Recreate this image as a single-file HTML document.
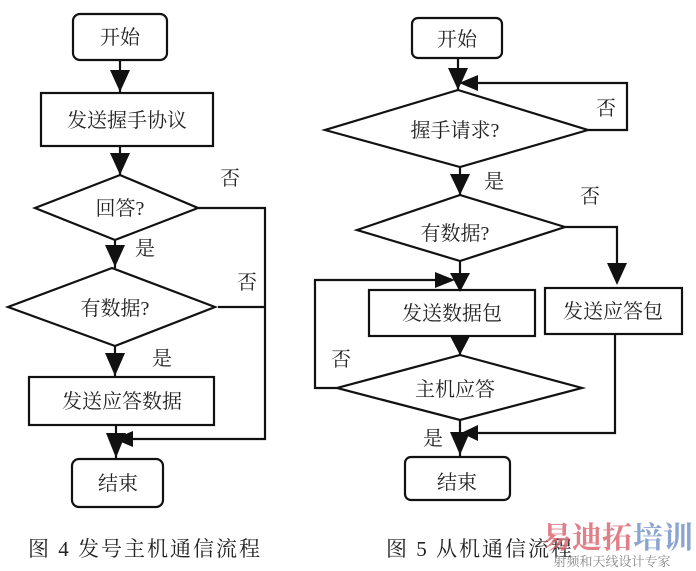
<!DOCTYPE html>
<html><head><meta charset="utf-8"><style>
html,body{margin:0;padding:0;background:#fff;}
svg{display:block;}
text{font-family:"Liberation Serif","Noto Serif CJK SC","Noto Sans CJK SC",serif;fill:#222;}
</style></head><body>
<svg width="696" height="571" viewBox="0 0 696 571" xmlns="http://www.w3.org/2000/svg">
<g fill="none" stroke="#111" stroke-width="2.2">
<rect x="73" y="14" width="94" height="46" rx="7"/>
<line x1="120" y1="60" x2="120" y2="93"/>
<rect x="41" y="93" width="172" height="53"/>
<line x1="120" y1="146" x2="120" y2="175"/>
<polygon points="120,175 198,208 115,240 35,208"/>
<polyline points="198,208 265,208 265,439 120,439"/>
<line x1="115" y1="240" x2="115" y2="268"/>
<polygon points="112,268 215,307 115,346 8,307"/>
<line x1="218" y1="307" x2="265" y2="307"/>
<line x1="115" y1="346" x2="115" y2="377"/>
<rect x="29" y="377" width="185" height="48"/>
<line x1="116" y1="425" x2="116" y2="459"/>
<rect x="72" y="459" width="91" height="48" rx="7"/>
<rect x="412" y="18" width="90" height="40" rx="6"/>
<line x1="458" y1="58" x2="458" y2="90"/>
<polyline points="588,130 627,130 627,83 470,83"/>
<polygon points="458,90 588,130 460,167 325,130"/>
<line x1="460" y1="167" x2="460" y2="195"/>
<polygon points="460,195 565,227 460,261 357,230"/>
<polyline points="565,227 617,227 617,280"/>
<line x1="460" y1="261" x2="460" y2="290"/>
<rect x="369" y="290" width="166" height="46"/>
<rect x="545" y="288" width="137" height="46"/>
<polyline points="337,388 315,388 315,280 440,280"/>
<line x1="460" y1="336" x2="460" y2="355"/>
<polygon points="460,355 582,388 460,420 337,388"/>
<line x1="460" y1="420" x2="460" y2="457"/>
<polyline points="615,334 615,433 475,433"/>
<rect x="405" y="457" width="105" height="43" rx="6"/>
</g>
<g fill="#111">
<polygon points="110,70 130,70 120,92"/>
<polygon points="110,153 130,153 120,175"/>
<polygon points="105,245 125,245 115,267"/>
<polygon points="105,353 125,353 115,376"/>
<polygon points="106,433 126,433 116,458"/>
<polygon points="133,431 133,447 114,439"/>
<polygon points="448,68 468,68 458,90"/>
<polygon points="478,75 478,91 459,83"/>
<polygon points="450,174 470,174 460,195"/>
<polygon points="607,263 627,263 617,285"/>
<polygon points="450,273 470,273 460,292"/>
<polygon points="435,272 435,288 455,280"/>
<polygon points="450,336 470,336 460,355"/>
<polygon points="450,432 470,432 460,455"/>
<polygon points="478,425 478,441 461,433"/>
</g>
<g font-size="20" text-anchor="middle">
<text x="120" y="44">开始</text>
<text x="127" y="127">发送握手协议</text>
<text x="120" y="215">回答?</text>
<text x="115" y="315">有数据?</text>
<text x="122" y="408">发送应答数据</text>
<text x="118" y="490">结束</text>
<text x="230" y="185">否</text>
<text x="145" y="255">是</text>
<text x="247" y="289">否</text>
<text x="162" y="365">是</text>
<text x="457" y="46">开始</text>
<text x="455" y="137">握手请求?</text>
<text x="455" y="240">有数据?</text>
<text x="452" y="320">发送数据包</text>
<text x="613" y="318">发送应答包</text>
<text x="455" y="396">主机应答</text>
<text x="457" y="489">结束</text>
<text x="606" y="115">否</text>
<text x="494" y="188">是</text>
<text x="590" y="203">否</text>
<text x="341" y="366">否</text>
<text x="433" y="445">是</text>
</g>
<g font-size="21" letter-spacing="2">
<text x="28" y="556">图 4  发号主机通信流程</text>
<text x="386" y="556">图 5  从机通信流程</text>
</g>
<g font-family="Liberation Sans,Noto Sans CJK SC,sans-serif" font-weight="bold" font-size="30">
<text x="542" y="548" style="fill:#d9606a" opacity="0.8">易迪拓</text>
<text x="633" y="548" style="fill:#6f8fc9" opacity="0.8">培训</text>
</g>
<text x="612" y="566" font-size="13" text-anchor="middle" style="fill:#888">射频和天线设计专家</text>
</svg>
</body></html>
